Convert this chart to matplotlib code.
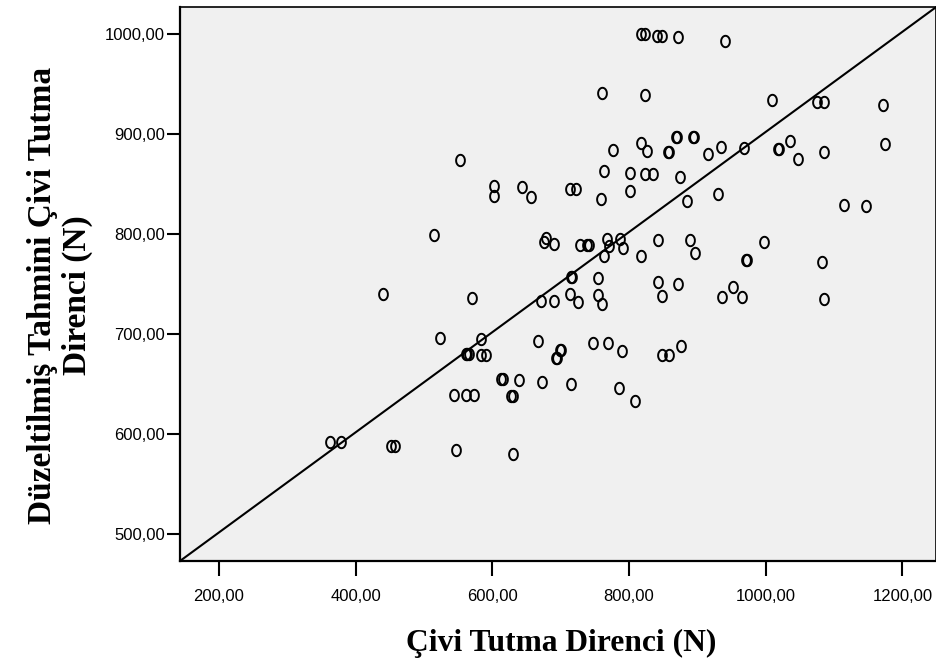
import numpy as np
import matplotlib
matplotlib.use('Agg')
import matplotlib.pyplot as plt
from matplotlib.path import Path
from matplotlib import font_manager

# observed values (x) and adjusted predicted values (y), in N
civi_x = [818, 823, 841, 849, 872, 940,
          760, 823, 1010, 1075, 1085, 1171,
          818, 826, 857, 859, 869, 871, 893, 895, 915, 934, 968, 1018, 1020,
          1036, 1048, 1086, 1175, 777, 553,
          764, 802, 823, 835, 874,
          602, 602, 643, 656, 713, 723, 759, 801,
          885, 930, 1114, 1147,
          515, 678, 676, 690, 729, 738, 742, 768, 771, 787, 791, 763, 818,
          843, 890, 897, 971, 973, 998, 1082,
          715, 717, 754,
          843, 848, 872, 936, 952, 965, 1086,
          440, 571, 671, 691, 714, 725, 754, 761,
          523, 584, 667, 747, 769, 790,
          699, 701, 693, 695,
          561, 563, 566, 584, 591,
          849, 858, 876,
          613, 615, 639, 672, 715, 785, 809,
          544, 562, 573, 628, 630,
          362, 378, 452, 457, 547, 630]
tahmini_y = [1000, 1000, 998.5, 998.5, 997, 993.5,
             941, 939.5, 934, 932, 932, 929,
             891, 883, 882, 882, 897.5, 897.5, 897.5, 897.5, 880, 887.5, 886.5, 885, 885,
             893.5, 875, 882.5, 890, 884, 874.5,
             863, 861, 860, 860, 857,
             848.5, 838, 847, 837, 845, 845, 835, 843,
             833.5, 840, 829, 828.5,
             799.5, 796, 792, 790.5, 789.5, 789, 789, 795, 788, 795, 786, 778.5, 778.5,
             794, 794, 781, 774.5, 774.5, 792, 772,
             757, 757, 756,
             752, 738.5, 750.5, 737, 747, 737, 735.5,
             740, 736.5, 733.5, 733, 740, 732, 739.5, 730.5,
             696, 695.5, 693, 691, 691, 683,
             684, 684, 676, 676,
             680.5, 680.5, 680.5, 679.5, 679.5,
             679, 679, 688,
             655, 655, 654, 652, 650, 646, 633,
             639.5, 639.5, 639.5, 638, 638,
             592, 592, 588.5, 588.5, 584, 580]

# fit line (total)
fit_intercept = 401.7
fit_slope = 0.5008

XLIM = [143, 1250]
YLIM = [473.3, 1027.5]
xticks = [200, 400, 600, 800, 1000, 1200]
yticks = [500, 600, 700, 800, 900, 1000]

# SPSS draws the tick labels in a narrow Arial
installed = set(f.name for f in font_manager.fontManager.ttflist)
if 'Liberation Sans Narrow' in installed:
    TICKFONT, TICKSIZE = 'Liberation Sans Narrow', 14
else:
    TICKFONT, TICKSIZE = 'Liberation Sans', 12
LABELFONT = 'Liberation Serif'

# SPSS style open ellipse
theta = np.linspace(0, 2*np.pi, 64)
ellipse = Path(np.column_stack([0.77*np.cos(theta), np.sin(theta)]))

fig = plt.figure(figsize=(9.37, 6.69), dpi=100)
ax = fig.add_axes([180/937, 108/669, 756.5/937, 554/669])
ax.set_facecolor('#f0f0f0')

ax.plot(XLIM, [fit_intercept + fit_slope*XLIM[0], fit_intercept + fit_slope*XLIM[1]],
        color='black', linewidth=1.5, zorder=2)
ax.plot(civi_x, tahmini_y, linestyle='none', marker=ellipse, markersize=8.2,
        markerfacecolor='none', markeredgecolor='black', markeredgewidth=1.4, zorder=3)

ax.set_xlim(XLIM)
ax.set_ylim(YLIM)
ax.set_xticks(xticks)
ax.set_yticks(yticks)
ax.set_xticklabels(['%d,00' % v for v in xticks], family=TICKFONT, fontsize=TICKSIZE)
ax.set_yticklabels(['%d,00' % v for v in yticks], family=TICKFONT, fontsize=TICKSIZE)
ax.tick_params(axis='x', length=11, width=1.5, pad=9, direction='out')
ax.tick_params(axis='y', length=9.5, width=1.5, pad=1.5, direction='out')
for side in ['left', 'bottom']:
    ax.spines[side].set_linewidth(1.6)
for side in ['top', 'right']:
    ax.spines[side].set_linewidth(1.2)

fig.text(561/937, (669-643)/669, 'Çivi Tutma Direnci (N)', family=LABELFONT,
         fontweight='bold', fontsize=22.7, ha='center', va='center')
fig.text(60/937, (669-295)/669, 'Düzeltilmiş Tahmini Çivi Tutma\nDirenci (N)',
         family=LABELFONT, fontweight='bold', fontsize=24, rotation=90,
         ha='center', va='center', multialignment='center', linespacing=1.15)

fig.savefig('out.png', dpi=100)
